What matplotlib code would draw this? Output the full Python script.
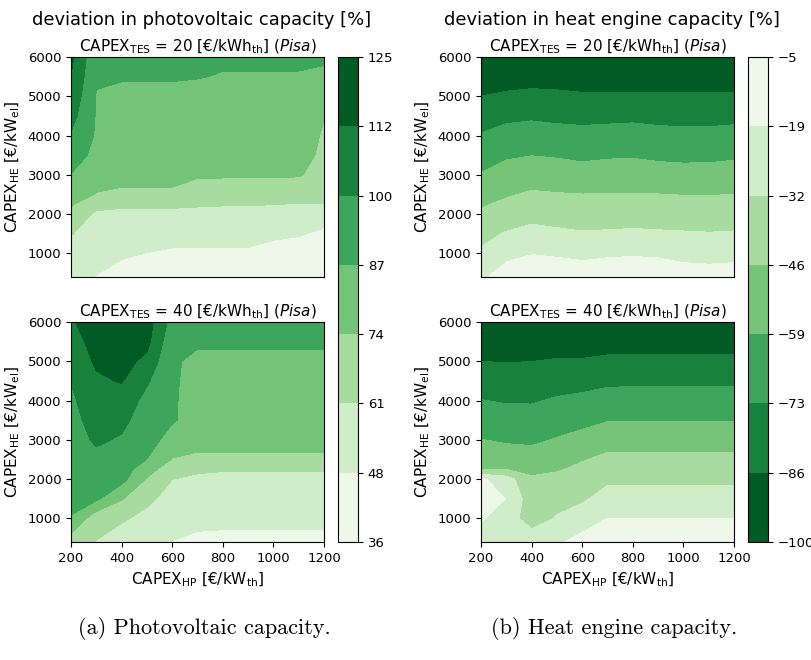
import matplotlib
matplotlib.use("Agg")
import matplotlib.pyplot as plt
import numpy as np

# grid of the sensitivity study
capex_hp = [200, 300, 400, 500, 600, 700, 800, 900, 1000, 1100, 1200]
capex_he = [400, 1000, 1500, 2000, 2250, 2500, 3000, 3500, 4000, 4500, 5000, 5500, 6000]

# deviation in photovoltaic capacity [%], rows follow capex_he, columns capex_hp
pv_tes20 = [
    [52, 48.3, 45, 43, 42, 41, 41, 41, 40, 39.5, 38],
    [56, 53, 50, 48.5, 47, 47, 47, 47, 45, 44, 42],
    [62, 56, 56, 54.5, 53, 52.5, 52.5, 52.5, 50.5, 49.5, 47],
    [71, 59, 58.5, 58.5, 58.5, 58.5, 58.5, 58.5, 58, 57, 52.5],
    [75.3, 66, 63.5, 63.5, 63.5, 62.5, 62, 62, 61.5, 61, 61],
    [80, 73.5, 72.5, 72.5, 72.5, 68, 67, 67, 67, 66.5, 68],
    [86.5, 79, 77, 77, 77, 75.5, 75.5, 75.5, 75.5, 75, 70],
    [92, 84, 79, 79, 79, 78, 78, 78, 78, 78, 72],
    [98.5, 85.5, 80, 80, 80, 79.5, 79.5, 79.5, 79.5, 79.5, 73],
    [104, 86, 81.5, 81.5, 81.5, 80.5, 80.5, 80.5, 80.5, 80.5, 74.5],
    [108.5, 86.3, 83.5, 83.5, 83.5, 82, 82, 82, 82, 82, 80],
    [112, 88, 88, 88, 88, 87.5, 86, 86, 86, 86, 84],
    [115, 89.5, 92, 92, 92, 92, 89, 89, 89, 89, 89],
]
pv_tes40 = [
    [67, 61, 55, 50, 48.5, 46, 44, 44, 44, 44, 44],
    [86, 66, 63, 58, 53, 52, 53, 53, 53, 53, 53],
    [91, 89, 75, 64, 57, 56, 57, 57, 57, 57, 57],
    [93, 93, 91, 73, 61.5, 59.5, 59.5, 59.5, 59.5, 59.5, 59.5],
    [93.5, 95, 93, 79, 67, 63, 62, 62, 62, 62, 62],
    [94, 97, 95, 86.7, 73.5, 70, 70, 70, 70, 70, 70],
    [95, 101, 98.5, 92, 82, 81, 81, 81, 81, 81, 81],
    [96, 104, 102, 94.5, 88, 82, 82, 82, 82, 82, 82],
    [97.5, 107, 107, 96, 88, 83, 83, 83, 83, 83, 83],
    [99.8, 110.5, 113, 101, 88, 84, 84, 84, 84, 84, 84],
    [104, 114, 117, 109, 88, 85, 85, 85, 85, 85, 85],
    [108, 116, 120, 116, 90, 88, 88, 88, 88, 88, 88],
    [111, 118, 123, 118, 95, 92, 92, 92, 92, 92, 92],
]

# deviation in heat engine capacity [%]
he_tes20 = [
    [-20.5, -13.5, -10, -11.5, -13, -12.5, -12, -12.5, -14, -14.5, -14],
    [-30, -21.5, -19, -20, -21, -20, -19.5, -20, -21.5, -22, -21.5],
    [-36.5, -31, -28, -29.5, -31, -30.5, -30, -30.5, -31, -31.5, -31],
    [-44, -40, -36.5, -38, -39, -38.5, -38, -38.5, -39, -39.5, -39],
    [-47, -43.5, -40, -41.5, -42.5, -42, -42, -42, -42.5, -43, -42.5],
    [-50.5, -47, -44, -45, -45.5, -45.5, -45.5, -45.5, -46, -46, -45.7],
    [-58.5, -54, -52, -52.5, -54, -52.5, -52.5, -53.5, -54.5, -54, -53],
    [-65, -61, -59.5, -60.5, -62, -61, -60.5, -62, -62.5, -62.5, -61.5],
    [-72, -68, -66.5, -68, -69, -68.5, -68, -69, -69.5, -69.5, -69],
    [-79, -76, -75, -76, -76.5, -76, -75.5, -76.5, -77, -77, -76],
    [-86.4, -84.5, -83.5, -84, -85, -85, -85, -85, -85, -85, -85],
    [-93, -92, -91, -91.5, -92, -92, -92, -92, -92, -92, -92],
    [-99, -98, -97.5, -98, -98, -98, -98, -98, -98, -98, -98],
]
he_tes40 = [
    [-24, -26, -22, -20, -15, -11, -11, -11, -11, -11, -11],
    [-17.6, -24, -40, -31, -24, -18.5, -18.5, -18.5, -18.5, -18.5, -18.5],
    [-15, -18.7, -40, -37, -34.5, -26, -26, -26, -26, -26, -26],
    [-16.5, -26, -44.5, -42, -40, -35, -35, -35, -35, -35, -35],
    [-48, -46, -48, -47, -43, -39, -39, -39, -39, -39, -39],
    [-52, -52, -54, -51, -46.5, -43, -43, -43, -43, -43, -43],
    [-59, -61, -61.5, -58.5, -55, -50.5, -50.5, -50.5, -50.5, -50.5, -50.5],
    [-66, -67, -67.5, -65, -63, -60, -60, -60, -60, -60, -60],
    [-72.5, -74, -74, -71.5, -70, -67.5, -67.5, -67.5, -67.5, -67.5, -67.5],
    [-79.5, -80, -80, -78, -77, -75.5, -75, -75, -75, -75, -75],
    [-86.4, -87, -86.5, -85.5, -85.5, -84, -84, -84, -84, -84, -84],
    [-93, -93, -93, -92, -92, -91.5, -91.5, -91.5, -91.5, -91.5, -91.5],
    [-99, -99, -99, -98.5, -98.5, -98, -98, -98, -98, -98, -98],
]

pv_levels = np.linspace(36, 125, 8)
pv_ticklabels = ["36", "48", "61", "74", "87", "100", "112", "125"]
he_levels = np.linspace(-100, -5, 8)
he_ticklabels = ["\u2212100", "\u221286", "\u221273", "\u221259", "\u221246", "\u221232", "\u221219", "\u22125"]

tes_values = [20, 40]

W, H = 812, 660
fig = plt.figure(figsize=(W / 100, H / 100), dpi=100)


def frac(x0, y0, x1, y1):
    """pixel box (top-left origin) -> figure fraction rect"""
    return [x0 / W, 1 - y1 / H, (x1 - x0) / W, (y1 - y0) / H]


X, Y = np.meshgrid(capex_hp, capex_he)

columns = [
    (71, 338, [pv_tes20, pv_tes40], pv_levels, pv_ticklabels, "Greens",
     "deviation in photovoltaic capacity [%]", "(a) Photovoltaic capacity."),
    (481, 748, [he_tes20, he_tes40], he_levels, he_ticklabels, "Greens_r",
     "deviation in heat engine capacity [%]", "(b) Heat engine capacity."),
]

for left, cb_left, panels, levels, ticklabels, cmap, head, caption in columns:
    rows = [(57, 277), (322, 542)]
    cs = None
    for i, (data, tes) in enumerate(zip(panels, tes_values)):
        top, bot = rows[i]
        ax = fig.add_axes(frac(left, top, left + 253, bot))
        cs = ax.contourf(X, Y, np.array(data), levels=levels, cmap=cmap)
        ax.set_xlim(200, 1200)
        ax.set_ylim(400, 6000)
        ax.set_yticks([1000, 2000, 3000, 4000, 5000, 6000])
        ax.tick_params(labelsize=9.5)
        ax.set_title(r"CAPEX$_{\mathrm{TES}}$ = %d [€/kWh$_{\mathrm{th}}$] ($\mathit{Pisa}$)" % tes,
                     fontsize=11, pad=4)
        ax.set_ylabel(r"CAPEX$_{\mathrm{HE}}$ [€/kW$_{\mathrm{el}}$]", fontsize=11)
        if i == 0:
            ax.set_xticks([])
        else:
            ax.set_xticks([200, 400, 600, 800, 1000, 1200])
            ax.set_xlabel(r"CAPEX$_{\mathrm{HP}}$ [€/kW$_{\mathrm{th}}$]", fontsize=11)

    cax = fig.add_axes(frac(cb_left, 57, cb_left + 20, 542))
    cb = fig.colorbar(cs, cax=cax, ticks=levels)
    cb.ax.set_yticklabels(ticklabels)
    cb.ax.tick_params(labelsize=9.5)

    fig.text((left + 131) / W, 1 - 20 / H, head, ha="center", va="center", fontsize=12.9)
    fig.text((left + 133) / W, 1 - 628 / H, caption, ha="center", va="center",
             fontsize=16, family="cmr10")

fig.savefig("out.png", dpi=100)
